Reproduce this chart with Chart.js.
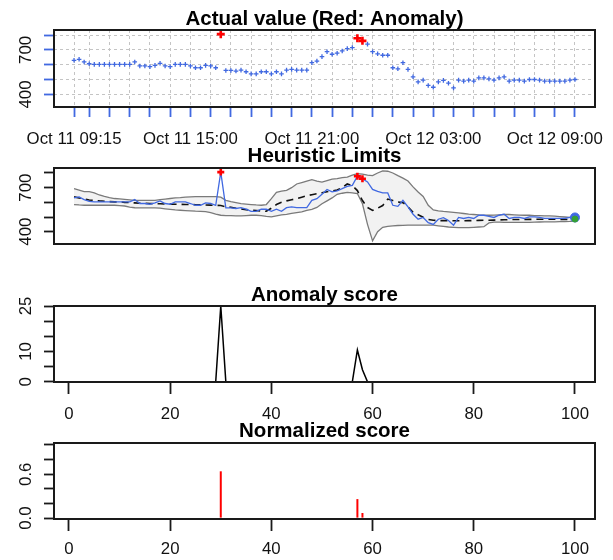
<!DOCTYPE html>
<html>
<head>
<meta charset="utf-8">
<script src="https://cdn.jsdelivr.net/npm/chart.js@4.4.1/dist/chart.umd.min.js"></script>
<style>
  html, body { margin: 0; padding: 0; background: #fff; }
  #wrap { position: relative; width: 613px; height: 560px; }
  #wrap canvas { position: absolute; left: 0; top: 0; }
</style>
</head>
<body>
<div id="wrap">
  <canvas id="c1" width="613" height="560"></canvas>
  <canvas id="c2" width="613" height="560"></canvas>
  <canvas id="c3" width="613" height="560"></canvas>
  <canvas id="c4" width="613" height="560"></canvas>
</div>
<script>
// observed values, 15-minute steps from Oct 11 09:15
const actual = [
  630, 637, 619, 607, 603, 603, 603, 603, 603, 603,
  603, 603, 619, 592, 592, 587, 596, 610, 592, 587,
  603, 603, 603, 592, 580, 580, 596, 592, 580, 806,
  562, 562, 558, 564, 553, 539, 539, 553, 553, 539,
  553, 539, 564, 569, 564, 564, 564, 614, 625, 655,
  688, 671, 678, 693, 709, 716, 778, 761, 739, 688,
  674, 664, 664, 580, 573, 614, 569, 519, 485, 497,
  461, 449, 485, 495, 476, 444, 497, 490, 497, 490,
  512, 512, 505, 497, 512, 519, 490, 497, 497, 490,
  501, 501, 497, 490, 490, 490, 490, 490, 497, 501
];
const expected = [
  637, 630, 622, 616, 614, 610, 607, 605, 603, 603,
  600, 598, 596, 594, 593, 592, 590, 590, 588, 588,
  587, 586, 585, 585, 584, 583, 582, 581, 580, 578,
  570, 566, 560, 555, 550, 546, 544, 541, 539, 560,
  585, 600, 610, 618, 625, 635, 645, 652, 659, 665,
  672, 678, 684, 700, 725, 715, 680, 612, 565, 545,
  560, 578, 622, 612, 602, 598, 570, 532, 515, 498,
  483, 478, 476, 475, 475, 474, 474, 474, 475, 476,
  477, 478, 478, 479, 480, 481, 482, 483, 483, 483,
  484, 484, 485, 485, 485, 485, 484, 484, 483, 483
];
const upper = [
  693, 683, 673, 673, 665, 650, 640, 632, 626, 623,
  620, 617, 614, 614, 614, 614, 614, 618, 622, 626,
  630, 632, 635, 637, 639, 639, 639, 639, 639, 635,
  614, 605, 598, 591, 588, 585, 582, 580, 585, 625,
  668, 676, 682, 700, 725, 735, 745, 755, 745, 738,
  748, 758, 762, 768, 772, 785, 795, 792, 785, 782,
  800, 815, 812, 800, 782, 765, 745, 705, 670, 640,
  580, 548, 542, 538, 535, 532, 528, 524, 520, 517,
  514, 512, 512, 513, 515, 517, 517, 515, 513, 512,
  512, 510, 509, 508, 508, 506, 503, 500, 497, 495
];
const lower = [
  585, 582, 580, 580, 580, 580, 580, 580, 580, 578,
  575, 568, 563, 562, 562, 562, 562, 560, 556, 552,
  548, 546, 544, 542, 540, 539, 537, 530, 520, 512,
  510, 509, 508, 508, 510, 512, 512, 510, 504, 501,
  508, 515, 518, 525, 530, 535, 545, 552, 565, 590,
  610, 630, 655, 662, 668, 665, 660, 590, 450, 337,
  400, 430, 436, 440, 442, 443, 444, 444, 444, 444,
  444, 444, 440, 436, 432, 430, 428, 427, 428, 430,
  432, 434, 460, 465, 465, 464, 463, 463, 463, 463,
  464, 465, 466, 467, 467, 467, 468, 469, 470, 472
];
const score = [
  0, 0, 0, 0, 0, 0, 0, 0, 0, 0,
  0, 0, 0, 0, 0, 0, 0, 0, 0, 0,
  0, 0, 0, 0, 0, 0, 0, 0, 0, 25,
  0, 0, 0, 0, 0, 0, 0, 0, 0, 0,
  0, 0, 0, 0, 0, 0, 0, 0, 0, 0,
  0, 0, 0, 0, 0, 0, 10.5, 4, 0, 0,
  0, 0, 0, 0, 0, 0, 0, 0, 0, 0,
  0, 0, 0, 0, 0, 0, 0, 0, 0, 0,
  0, 0, 0, 0, 0, 0, 0, 0, 0, 0,
  0, 0, 0, 0, 0, 0, 0, 0, 0, 0
];
const normScore = [
  0, 0, 0, 0, 0, 0, 0, 0, 0, 0,
  0, 0, 0, 0, 0, 0, 0, 0, 0, 0,
  0, 0, 0, 0, 0, 0, 0, 0, 0, 0.64,
  0, 0, 0, 0, 0, 0, 0, 0, 0, 0,
  0, 0, 0, 0, 0, 0, 0, 0, 0, 0,
  0, 0, 0, 0, 0, 0, 0.26, 0.07, 0, 0,
  0, 0, 0, 0, 0, 0, 0, 0, 0, 0,
  0, 0, 0, 0, 0, 0, 0, 0, 0, 0,
  0, 0, 0, 0, 0, 0, 0, 0, 0, 0,
  0, 0, 0, 0, 0, 0, 0, 0, 0, 0
];
const anomalyIdx = [30, 57, 58];
const lastActual = 497;
const lastExpected = 486;

// axis ticks and labels
const hourTicks = [1, 4, 8, 12, 16, 20, 24, 28, 32, 36, 40, 44, 48, 52, 56, 60, 64, 68, 72, 76, 80, 84, 88, 92, 96, 100];
const timeLabelPos = [1, 24, 48, 72, 96];
const timeLabels = ["Oct 11 09:15", "Oct 11 15:00", "Oct 11 21:00", "Oct 12 03:00", "Oct 12 09:00"];
const indexTicks = [0, 20, 40, 60, 80, 100];
const valueTicks = [400, 500, 600, 700, 800];
const valueLabels = [700, 400];
const scoreTicks = [0, 5, 10, 15, 20, 25];
const scoreLabels = [25, 10, 0];
const normTicks = [0, 0.2, 0.4, 0.6, 0.8, 1.0];
const normLabels = [0.6, 0.0];

const idx = actual.map((_, i) => i + 1);
const xy = (ys) => ys.map((y, i) => ({ x: idx[i], y: y }));
const anomalies = anomalyIdx.map((i) => ({ x: i, y: actual[i - 1] }));

const FONT = "'Liberation Sans', Arial, sans-serif";
const BLUE = "#4169e1";
const XMIN = -2.96, XMAX = 103.96;

// box, title and tick labels drawn like R base graphics
const rDecor = {
  id: "rDecor",
  afterDraw(chart, args, o) {
    const { ctx, chartArea: a, scales } = chart;
    ctx.save();
    ctx.strokeStyle = "#1a1a1a";
    ctx.lineWidth = 2;
    ctx.strokeRect(a.left, a.top, a.right - a.left, a.bottom - a.top);

    ctx.fillStyle = "#000";
    ctx.textAlign = "center";
    ctx.textBaseline = "alphabetic";
    ctx.font = "bold 20.5px " + FONT;
    ctx.fillText(o.title, (a.left + a.right) / 2, o.titleY);

    ctx.fillStyle = "#111";
    ctx.font = "16.8px " + FONT;
    o.yLabels.forEach((v) => {
      const y = scales.y.getPixelForValue(v);
      ctx.save();
      ctx.translate(26, y);
      ctx.rotate(-Math.PI / 2);
      ctx.textBaseline = "middle";
      ctx.fillText(o.yFormat ? o.yFormat(v) : String(v), 0, 0);
      ctx.restore();
    });
    (o.xLabels || []).forEach((v, i) => {
      const x = scales.x.getPixelForValue(v);
      ctx.fillText(o.xText ? o.xText[i] : String(v), x, o.xLabelY);
    });
    ctx.restore();
  }
};

function axis(min, max, ticks, size, o) {
  return {
    type: "linear",
    min: min,
    max: max,
    offset: false,
    display: o.display !== false,
    ticks: { display: false },
    grid: {
      offset: false,
      drawOnChartArea: !!o.grid,
      color: "#c4c4c4",
      lineWidth: 1,
      drawTicks: true,
      tickLength: o.tickLength || 10,
      tickColor: o.tickColor || "#1a1a1a",
      tickWidth: 1.8,
      tickBorderDash: []
    },
    border: { display: false, dash: o.grid ? [3, 3] : [] },
    afterBuildTicks: (s) => { s.ticks = ticks.map((v) => ({ value: v })); },
    afterFit: (s) => {
      if (s.isHorizontal()) s.height = size;
      else s.width = size;
    }
  };
}

function makeChart(id, type, top, padBottom, scales, datasets, decor) {
  return new Chart(document.getElementById(id), {
    type: type,
    data: { datasets: datasets },
    options: {
      responsive: false,
      animation: false,
      events: [],
      layout: { padding: { left: 0, right: 18, top: top, bottom: padBottom } },
      plugins: {
        legend: { display: false },
        tooltip: { enabled: false },
        filler: { drawTime: "beforeDatasetsDraw" },
        rDecor: decor
      },
      scales: scales
    },
    plugins: [rDecor]
  });
}

// Actual value
makeChart("c1", "line", 30, 0, {
  x: axis(XMIN, XMAX, hourTicks, 453, { grid: true, tickColor: BLUE, tickLength: 10 }),
  y: axis(316, 834, valueTicks, 54, { grid: true, tickColor: BLUE, tickLength: 10 })
}, [
  { data: anomalies, showLine: false, pointStyle: "cross", pointRadius: 4, borderColor: "#ff0000", borderWidth: 2.6 },
  { data: xy(actual), showLine: false, pointStyle: "cross", pointRadius: 2.3, borderColor: BLUE, borderWidth: 1.3 }
], { title: "Actual value (Red: Anomaly)", titleY: 25, yLabels: valueLabels, xLabels: timeLabelPos, xText: timeLabels, xLabelY: 144 });

// Heuristic Limits
makeChart("c2", "line", 168, 316, {
  x: axis(XMIN, XMAX, hourTicks, 0, { display: false }),
  y: axis(316, 834, valueTicks, 54, { tickLength: 10 })
}, [
  { data: anomalies, showLine: false, pointStyle: "cross", pointRadius: 3.5, borderColor: "#ff0000", borderWidth: 2.6 },
  { data: [{ x: 100, y: lastExpected }], showLine: false, pointRadius: 3, backgroundColor: "#35a035", borderColor: "#35a035", borderWidth: 1 },
  { data: [{ x: 100, y: lastActual }], showLine: false, pointRadius: 4.5, backgroundColor: BLUE, borderColor: BLUE, borderWidth: 1 },
  { data: xy(actual), borderColor: BLUE, borderWidth: 1.3, pointRadius: 0, tension: 0 },
  { data: xy(expected), borderColor: "#111", borderWidth: 1.6, borderDash: [7, 5], pointRadius: 0, tension: 0 },
  { data: xy(upper), borderColor: "#7a7a7a", borderWidth: 1.3, pointRadius: 0, fill: "+1", backgroundColor: "#f2f2f2" },
  { data: xy(lower), borderColor: "#7a7a7a", borderWidth: 1.3, pointRadius: 0 }
], { title: "Heuristic Limits", titleY: 162, yLabels: valueLabels });

// Anomaly score
makeChart("c3", "line", 306, 0, {
  x: axis(XMIN, XMAX, indexTicks, 178, { tickLength: 12 }),
  y: axis(-0.05, 25, scoreTicks, 54, { tickLength: 10 })
}, [
  { data: xy(score), borderColor: "#000", borderWidth: 1.5, pointRadius: 0, tension: 0 }
], { title: "Anomaly score", titleY: 301, yLabels: scoreLabels, xLabels: indexTicks, xLabelY: 419 });

// Normalized score
makeChart("c4", "bar", 443, 0, {
  x: axis(XMIN, XMAX, indexTicks, 41, { tickLength: 12 }),
  y: axis(-0.012, 1.027, normTicks, 54, { tickLength: 10 })
}, [
  { data: xy(normScore), backgroundColor: "#ff0000", borderWidth: 0, barThickness: 2, inflateAmount: 0 }
], { title: "Normalized score", titleY: 437, yLabels: normLabels, yFormat: (v) => v.toFixed(1), xLabels: indexTicks, xLabelY: 554 });
</script>
</body>
</html>
